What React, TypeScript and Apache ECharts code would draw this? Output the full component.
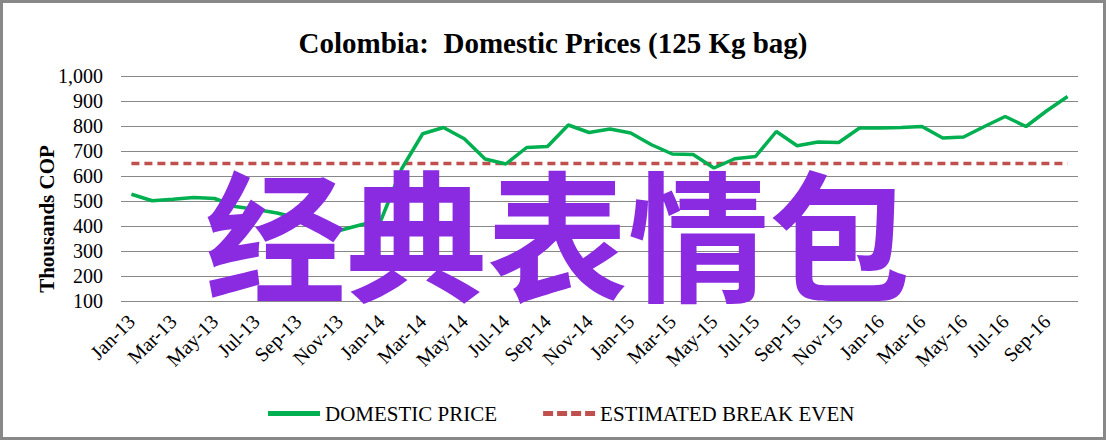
import React, { useEffect, useRef } from "react";
import * as echarts from "echarts";

const months = [
  "Jan-13","Feb-13","Mar-13","Apr-13","May-13","Jun-13","Jul-13","Aug-13","Sep-13","Oct-13","Nov-13","Dec-13",
  "Jan-14","Feb-14","Mar-14","Apr-14","May-14","Jun-14","Jul-14","Aug-14","Sep-14","Oct-14","Nov-14","Dec-14",
  "Jan-15","Feb-15","Mar-15","Apr-15","May-15","Jun-15","Jul-15","Aug-15","Sep-15","Oct-15","Nov-15","Dec-15",
  "Jan-16","Feb-16","Mar-16","Apr-16","May-16","Jun-16","Jul-16","Aug-16","Sep-16","Oct-16",
];

const domesticPrice = [
  527, 501, 507, 514, 510, 478, 466, 452, 432, 398, 382, 404,
  424, 630, 769, 794, 749, 668, 648, 714, 718, 804, 774, 788,
  772, 725, 688, 686, 632, 669, 678, 778, 721, 736, 734, 792,
  792, 794, 798, 752, 756, 798, 838, 798, 861, 918,
];

const breakEven = months.map(() => 650);

const yTicks = { min: 100, max: 1000, interval: 100 };

const titleText = "Colombia:  Domestic Prices (125 Kg bag)";
const yAxisName = "Thousands COP";
const seriesNames = ["DOMESTIC PRICE", "ESTIMATED BREAK EVEN"];
const watermark = "经典表情包";

export default function App() {
  const ref = useRef<HTMLDivElement>(null);

  useEffect(() => {
    document.body.style.margin = "0";
    if (!ref.current) return;
    const chart = echarts.init(ref.current, null, { renderer: "svg" });
    const serif = "'Liberation Serif', 'Times New Roman', serif";
    chart.setOption({
      animation: false,
      backgroundColor: "#ffffff",
      title: {
        text: titleText,
        left: "center",
        top: 23,
        textStyle: { fontFamily: serif, fontSize: 29, fontWeight: "bold", color: "#000" },
      },
      legend: {
        left: 263,
        top: 398,
        itemWidth: 52,
        itemHeight: 5,
        itemGap: 46,
        textStyle: { fontFamily: serif, fontSize: 21, color: "#000" },
        data: [
          { name: seriesNames[0], icon: "path://M0,0 L52,0 L52,5 L0,5 Z" },
          {
            name: seriesNames[1],
            icon: "path://M0,0h10v5h-10z M14,0h10v5h-10z M28,0h10v5h-10z M42,0h10v5h-10z",
          },
        ],
      },
      grid: { left: 121, right: 28, top: 76, bottom: 139 },
      xAxis: {
        type: "category",
        data: months,
        boundaryGap: true,
        axisLine: { show: false },
        axisTick: { show: false },
        axisLabel: {
          interval: 1,
          rotate: 45,
          fontFamily: serif,
          fontSize: 20,
          color: "#000",
          margin: 17,
        },
      },
      yAxis: {
        type: "value",
        min: yTicks.min,
        max: yTicks.max,
        interval: yTicks.interval,
        axisLine: { show: false },
        axisTick: { show: false },
        axisLabel: {
          fontFamily: serif,
          fontSize: 20,
          color: "#000",
          margin: 18,
          formatter: (v: number) => v.toLocaleString("en-US"),
        },
        splitLine: { lineStyle: { color: "#888888", width: 1 } },
      },
      series: [
        {
          name: seriesNames[0],
          type: "line",
          data: domesticPrice,
          showSymbol: false,
          symbol: "none",
          lineStyle: { color: "#00B050", width: 3.5 },
          itemStyle: { color: "#00B050" },
          z: 3,
        },
        {
          name: seriesNames[1],
          type: "line",
          data: breakEven,
          showSymbol: false,
          symbol: "none",
          lineStyle: { color: "#C0504D", width: 3.5, type: [8, 5] },
          itemStyle: { color: "#C0504D" },
          z: 2,
        },
      ],
      graphic: [
        {
          type: "text",
          x: 47,
          y: 219,
          rotation: Math.PI / 2,
          style: {
            text: yAxisName,
            fontFamily: serif,
            fontSize: 21,
            fontWeight: "bold",
            fill: "#000",
            textAlign: "center",
            textVerticalAlign: "middle",
          },
        },
        {
          type: "text",
          left: 205,
          top: 159,
          z: 10,
          style: {
            text: watermark,
            fontFamily: "'Noto Sans CJK SC', sans-serif",
            fontWeight: "bold",
            fontSize: 141,
            fill: "#8A2BE2",
          },
        },
        {
          type: "rect",
          shape: { x: 1.5, y: 1.5, width: 1103, height: 437 },
          style: { fill: "none", stroke: "#888888", lineWidth: 3 },
          z: 20,
        },
      ],
    });
    return () => chart.dispose();
  }, []);

  return <div ref={ref} style={{ width: 1106, height: 440 }} />;
}
